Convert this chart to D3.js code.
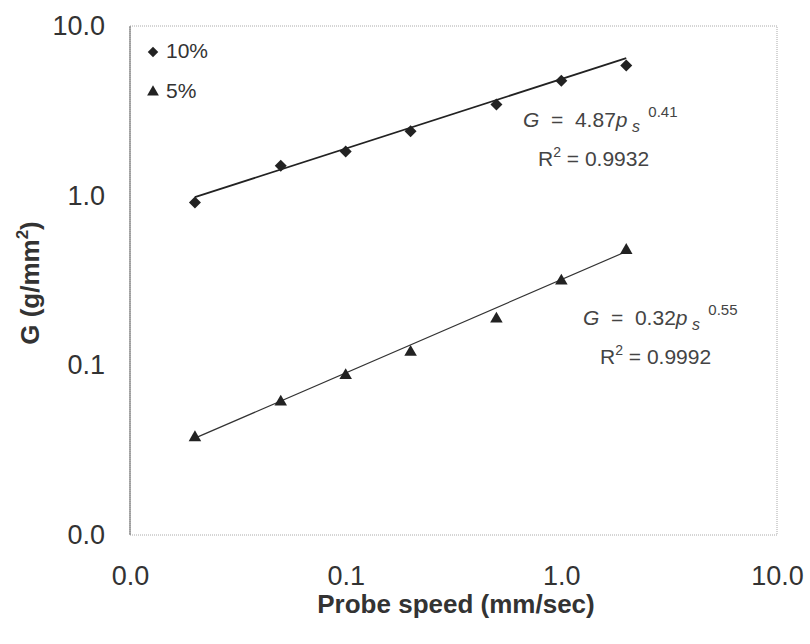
<html lang="en">
<head>
<title>Probe speed vs G</title>
<script src="https://d3js.org/d3.v7.min.js"></script>
<style>
body { margin: 0; background: #fff; font-family: "Liberation Sans", Arial, sans-serif; }
</style>
</head>
<body>
<script>
// data
var speeds = [0.02, 0.05, 0.1, 0.2, 0.5, 1, 2];
var g10 = [0.91, 1.5, 1.82, 2.4, 3.45, 4.75, 5.85];
var g5 = [0.037, 0.06, 0.086, 0.118, 0.185, 0.31, 0.47];
var tickVals = [0.01, 0.1, 1, 10];
var tickLabels = ["0.0", "0.1", "1.0", "10.0"];
// power trendlines shown on the chart
var fit10 = {a: 4.87, b: 0.41, r2: "0.9932"};
var fit5 = {a: 0.32, b: 0.55, r2: "0.9992"};

var width = 810, height = 644;
var margin = {left: 130, right: 33, top: 26, bottom: 109};

var svg = d3.select("body").append("svg")
  .attr("width", width)
  .attr("height", height);

var x = d3.scaleLog().domain([0.01, 10]).range([margin.left, width - margin.right]);
var y = d3.scaleLog().domain([0.01, 10]).range([height - margin.bottom, margin.top]);

// frame
svg.append("rect")
  .attr("x", x(0.01)).attr("y", y(10))
  .attr("width", x(10) - x(0.01)).attr("height", y(0.01) - y(10))
  .attr("fill", "none")
  .attr("stroke", "#aaa")
  .attr("stroke-dasharray", "1,1");
svg.append("line")
  .attr("x1", x(0.01)).attr("x2", x(0.01))
  .attr("y1", y(10)).attr("y2", y(0.01))
  .attr("stroke", "#666");

// axes (labels only)
var xAxis = svg.append("g")
  .attr("transform", "translate(0," + y(0.01) + ")")
  .call(d3.axisBottom(x).tickValues(tickVals).tickSize(0).tickPadding(31)
    .tickFormat(function(d, i) { return tickLabels[i]; }));
var yAxis = svg.append("g")
  .attr("transform", "translate(" + x(0.01) + ",0)")
  .call(d3.axisLeft(y).tickValues(tickVals).tickSize(0).tickPadding(25)
    .tickFormat(function(d, i) { return tickLabels[i]; }));
[xAxis, yAxis].forEach(function(a) {
  a.select(".domain").remove();
  a.selectAll("text")
    .attr("font-family", "'Liberation Sans', Arial, sans-serif")
    .attr("font-size", 27)
    .attr("fill", "#333");
});

// axis titles
svg.append("text")
  .attr("x", 456).attr("y", 613)
  .attr("text-anchor", "middle")
  .attr("font-size", 26).attr("font-weight", "bold").attr("fill", "#333")
  .text("Probe speed (mm/sec)");
var yt = svg.append("text")
  .attr("transform", "translate(39,283) rotate(-90)")
  .attr("text-anchor", "middle")
  .attr("font-size", 26).attr("font-weight", "bold").attr("fill", "#333");
yt.append("tspan").text("G (g/mm");
yt.append("tspan").attr("dy", -11).attr("font-size", 17).text("2");
yt.append("tspan").attr("dy", 11).text(")");

// trendlines
function fitLine(f) {
  return d3.line()
    .x(function(d) { return x(d); })
    .y(function(d) { return y(f.a * Math.pow(d, f.b)); })([speeds[0], speeds[speeds.length - 1]]);
}
svg.append("path").attr("d", fitLine(fit10))
  .attr("stroke", "#222").attr("stroke-width", 1.8).attr("fill", "none");
svg.append("path").attr("d", fitLine(fit5))
  .attr("stroke", "#333").attr("stroke-width", 1.2).attr("fill", "none");

// markers
svg.append("g").selectAll("path")
  .data(speeds).enter().append("path")
  .attr("transform", function(d, i) { return "translate(" + x(d) + "," + y(g10[i]) + ") rotate(45)"; })
  .attr("d", d3.symbol().type(d3.symbolSquare).size(72))
  .attr("fill", "#222");
svg.append("g").selectAll("path")
  .data(speeds).enter().append("path")
  .attr("transform", function(d, i) { return "translate(" + x(d) + "," + (y(g5[i]) - 1) + ")"; })
  .attr("d", d3.symbol().type(d3.symbolTriangle).size(68))
  .attr("fill", "#222");

// legend
svg.append("path").attr("transform", "translate(153,52) rotate(45)")
  .attr("d", d3.symbol().type(d3.symbolSquare).size(55)).attr("fill", "#222");
svg.append("text").attr("x", 166).attr("y", 58).attr("font-size", 21).attr("fill", "#333").text("10%");
svg.append("path").attr("transform", "translate(153,92)")
  .attr("d", d3.symbol().type(d3.symbolTriangle).size(60)).attr("fill", "#222");
svg.append("text").attr("x", 166).attr("y", 98).attr("font-size", 21).attr("fill", "#333").text("5%");

// equations
function equation(lx, cy, rx, f) {
  var t = svg.append("text").attr("x", lx).attr("y", cy)
    .attr("font-size", 21).attr("fill", "#444");
  t.append("tspan").attr("font-style", "italic").text("G");
  t.append("tspan").text("  =  " + f.a.toFixed(2));
  t.append("tspan").attr("font-style", "italic").text("p");
  t.append("tspan").attr("font-style", "italic").attr("font-size", 16).attr("dy", 5).text(" s");
  t.append("tspan").attr("font-size", 15).attr("dy", -15).text("  " + f.b.toFixed(2));
  t.attr("xml:space", "preserve").style("white-space", "pre");
  var r = svg.append("text").attr("x", rx).attr("y", cy + 39)
    .attr("font-size", 21).attr("fill", "#444");
  r.append("tspan").text("R");
  r.append("tspan").attr("font-size", 14).attr("dy", -9).text("2");
  r.append("tspan").attr("dy", 9).text(" = " + f.r2);
}
equation(523, 127, 538, fit10);
equation(583, 325, 600, fit5);
</script>
</body>
</html>
